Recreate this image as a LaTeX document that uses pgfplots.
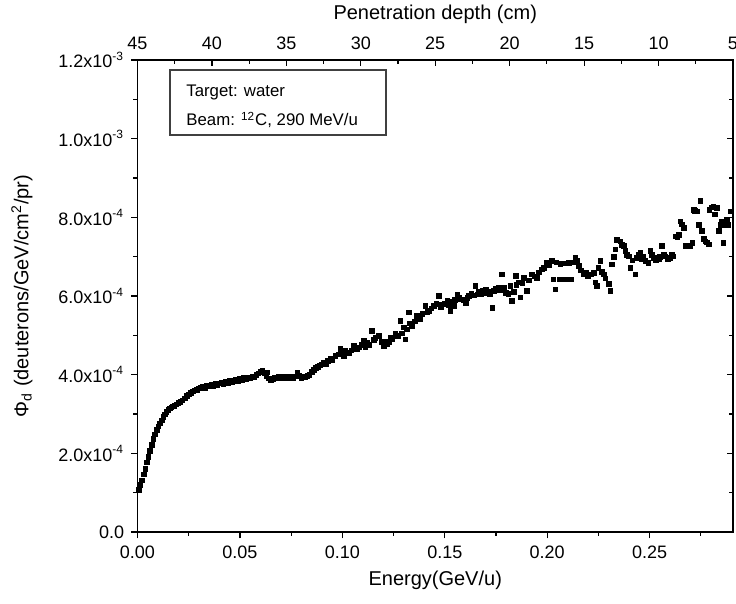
\documentclass[border=0pt]{standalone}
\usepackage{pgfplots}
\pgfplotsset{compat=1.18}
\usepackage{fontspec}
\setmainfont{Liberation Sans}

\pgfplotstableread{
E phi
0.0006 1.07e-4
0.0014 1.19e-4
0.0022 1.31e-4
0.003 1.46e-4
0.0038 1.61e-4
0.0046 1.77e-4
0.0054 1.91e-4
0.0062 2.06e-4
0.007 2.22e-4
0.0078 2.36e-4
0.0086 2.48e-4
0.0094 2.59e-4
0.0102 2.68e-4
0.011 2.76e-4
0.0118 2.84e-4
0.0126 2.92e-4
0.0134 2.99e-4
0.0142 3.05e-4
0.015 3.11e-4
0.0158 3.14e-4
0.0166 3.17e-4
0.0174 3.19e-4
0.018 3.21e-4
0.019 3.24e-4
0.020 3.28e-4
0.021 3.31e-4
0.022 3.35e-4
0.023 3.40e-4
0.024 3.46e-4
0.025 3.50e-4
0.026 3.54e-4
0.027 3.57e-4
0.028 3.60e-4
0.029 3.62e-4
0.030 3.65e-4
0.031 3.68e-4
0.032 3.70e-4
0.033 3.67e-4
0.034 3.73e-4
0.035 3.70e-4
0.036 3.75e-4
0.037 3.71e-4
0.038 3.77e-4
0.039 3.73e-4
0.040 3.78e-4
0.041 3.80e-4
0.042 3.76e-4
0.043 3.82e-4
0.044 3.79e-4
0.045 3.84e-4
0.046 3.80e-4
0.047 3.85e-4
0.048 3.87e-4
0.049 3.83e-4
0.050 3.89e-4
0.051 3.86e-4
0.052 3.91e-4
0.053 3.88e-4
0.054 3.93e-4
0.055 3.92e-4
0.056 3.96e-4
0.057 3.95e-4
0.058 3.99e-4
0.059 4.03e-4
0.060 4.07e-4
0.061 4.09e-4
0.062 4.03e-4
0.063 3.96e-4
0.0635 4.06e-4
0.064 3.90e-4
0.065 3.86e-4
0.066 3.89e-4
0.067 3.93e-4
0.068 3.90e-4
0.069 3.94e-4
0.070 3.90e-4
0.071 3.94e-4
0.072 3.91e-4
0.073 3.95e-4
0.074 3.92e-4
0.075 3.96e-4
0.076 3.91e-4
0.077 3.96e-4
0.078 4.04e-4
0.079 3.97e-4
0.080 3.92e-4
0.081 3.96e-4
0.082 3.93e-4
0.083 3.97e-4
0.084 4.00e-4
0.085 4.07e-4
0.086 4.12e-4
0.087 4.17e-4
0.088 4.20e-4
0.089 4.24e-4
0.090 4.26e-4
0.091 4.31e-4
0.092 4.27e-4
0.093 4.35e-4
0.0943 4.40e-4
0.095 4.36e-4
0.0967 4.48e-4
0.098 4.52e-4
0.0991 4.65e-4
0.100 4.55e-4
0.1007 4.48e-4
0.1015 4.60e-4
0.1032 4.56e-4
0.1045 4.62e-4
0.1056 4.73e-4
0.107 4.66e-4
0.108 4.69e-4
0.1095 4.75e-4
0.1105 4.86e-4
0.1113 4.69e-4
0.112 4.80e-4
0.113 4.76e-4
0.1145 5.11e-4
0.1155 4.88e-4
0.1162 4.94e-4
0.1178 4.99e-4
0.119 4.83e-4
0.1202 4.73e-4
0.121 4.85e-4
0.1218 4.78e-4
0.123 4.82e-4
0.1235 4.95e-4
0.1243 4.90e-4
0.1259 5.03e-4
0.127 4.98e-4
0.1283 5.37e-4
0.129 5.05e-4
0.130 5.20e-4
0.1308 4.90e-4
0.1315 5.15e-4
0.1324 5.58e-4
0.133 5.30e-4
0.1341 5.24e-4
0.1355 5.35e-4
0.1365 5.49e-4
0.137 5.45e-4
0.1382 5.41e-4
0.139 5.55e-4
0.1406 5.75e-4
0.1415 5.60e-4
0.1422 5.62e-4
0.1435 5.68e-4
0.1446 5.75e-4
0.146 5.80e-4
0.1471 6.00e-4
0.148 5.72e-4
0.1487 5.79e-4
0.150 5.80e-4
0.1512 5.87e-4
0.152 5.78e-4
0.1528 5.62e-4
0.1535 5.85e-4
0.1545 5.75e-4
0.155 5.90e-4
0.1561 6.04e-4
0.157 5.95e-4
0.1577 5.91e-4
0.159 5.90e-4
0.1602 5.83e-4
0.161 5.95e-4
0.1618 6.00e-4
0.163 6.05e-4
0.1645 6.02e-4
0.1650 6.25e-4
0.1659 6.04e-4
0.1665 6.10e-4
0.1675 6.06e-4
0.1683 6.13e-4
0.169 6.08e-4
0.170 6.17e-4
0.171 6.12e-4
0.172 6.05e-4
0.1732 5.70e-4
0.1741 6.13e-4
0.175 6.18e-4
0.1763 6.21e-4
0.177 6.15e-4
0.1780 6.55e-4
0.179 6.20e-4
0.1797 6.08e-4
0.181 6.05e-4
0.1821 6.25e-4
0.1829 5.87e-4
0.1838 6.10e-4
0.1846 6.51e-4
0.185 6.28e-4
0.186 6.35e-4
0.187 5.96e-4
0.1878 6.32e-4
0.1887 6.46e-4
0.190 6.13e-4
0.1912 6.40e-4
0.1925 6.55e-4
0.194 6.50e-4
0.195 6.46e-4
0.196 6.60e-4
0.1974 6.68e-4
0.1985 6.72e-4
0.1999 6.84e-4
0.201 6.78e-4
0.2023 6.89e-4
0.2030 6.42e-4
0.204 6.17e-4
0.2045 6.85e-4
0.206 6.42e-4
0.2065 6.82e-4
0.208 6.42e-4
0.2085 6.83e-4
0.210 6.42e-4
0.2105 6.84e-4
0.2115 6.42e-4
0.2125 6.85e-4
0.2138 6.97e-4
0.2145 6.90e-4
0.2154 6.76e-4
0.2165 6.65e-4
0.2178 6.55e-4
0.219 6.58e-4
0.220 6.51e-4
0.2215 6.55e-4
0.2227 6.59e-4
0.2235 6.35e-4
0.2243 6.25e-4
0.225 6.72e-4
0.226 6.89e-4
0.2268 6.62e-4
0.2276 6.55e-4
0.2285 6.45e-4
0.2300 6.30e-4
0.2308 6.13e-4
0.2316 6.80e-4
0.2325 7.00e-4
0.2333 7.18e-4
0.234 7.43e-4
0.2357 7.39e-4
0.2365 7.30e-4
0.2373 7.27e-4
0.2382 7.14e-4
0.239 7.05e-4
0.2398 7.01e-4
0.2406 6.72e-4
0.2415 6.90e-4
0.243 6.55e-4
0.2438 6.97e-4
0.2447 7.05e-4
0.2455 7.10e-4
0.2462 6.93e-4
0.247 7.00e-4
0.248 6.89e-4
0.2495 6.84e-4
0.2504 7.14e-4
0.251 7.05e-4
0.252 6.97e-4
0.253 6.90e-4
0.2544 6.93e-4
0.255 7.00e-4
0.256 7.27e-4
0.257 7.05e-4
0.2577 7.01e-4
0.259 6.95e-4
0.260 6.97e-4
0.261 7.05e-4
0.2617 7.01e-4
0.2625 7.52e-4
0.2635 7.50e-4
0.2642 7.56e-4
0.265 7.90e-4
0.2658 7.82e-4
0.2666 7.73e-4
0.2674 7.27e-4
0.2685 7.28e-4
0.270 7.27e-4
0.2708 7.35e-4
0.2715 8.19e-4
0.2722 8.17e-4
0.273 8.15e-4
0.274 7.81e-4
0.2748 8.41e-4
0.2756 7.65e-4
0.2765 7.45e-4
0.2772 7.39e-4
0.278 7.36e-4
0.2788 7.31e-4
0.2792 8.19e-4
0.2804 8.25e-4
0.2812 8.28e-4
0.2820 8.07e-4
0.2829 8.24e-4
0.2837 7.65e-4
0.2845 7.80e-4
0.2853 7.90e-4
0.2861 7.35e-4
0.2870 7.80e-4
0.2877 7.94e-4
0.2885 7.81e-4
0.2894 8.15e-4
}\deuterons

\begin{document}
\begin{tikzpicture}
\pgfplotsset{every axis/.append style={
  scale only axis, width=297.75pt, height=236pt,
  at={(0,0)}, anchor=south west,
  /pgf/number format/assume math mode=true,
  axis line style={-, line width=0.7pt, black},
  tick style={black, line width=0.6pt},
  major tick length=3.2pt, minor tick length=2pt,
  tick label style={font=\fontsize{9}{10}\selectfont},
  label style={font=\fontsize{10}{12}\selectfont},
  scaled x ticks=false, scaled y ticks=false,
  ymin=0, ymax=1.2e-3,
  ytick={0,2e-4,4e-4,6e-4,8e-4,1e-3,1.2e-3},
  minor ytick={1e-4,3e-4,5e-4,7e-4,9e-4,1.1e-3},
}}
\begin{axis}[
  xmin=0, xmax=0.2907,
  axis x line*=bottom, axis y line*=left,
  tick align=outside,
  xtick={0,0.05,0.1,0.15,0.2,0.25},
  minor xtick={0.025,0.075,0.125,0.175,0.225,0.275},
  xticklabels={0.00,0.05,0.10,0.15,0.20,0.25},
  yticklabels={0.0,
    2.0x10\textsuperscript{-4},
    4.0x10\textsuperscript{-4},
    6.0x10\textsuperscript{-4},
    8.0x10\textsuperscript{-4},
    1.0x10\textsuperscript{-3},
    1.2x10\textsuperscript{-3}},
  xlabel={Energy(GeV/u)},
  xlabel style={at={(axis description cs:0.5,-0.1017)}, anchor=center},
  ylabel={Φ\textsubscript{d} (deuterons/GeV/cm\textsuperscript{2}/pr)},
  ylabel style={at={(axis description cs:-0.194,0.5)}, anchor=center},
  clip=false,
]
\addplot[only marks, mark=square*, mark size=1.15pt, black] table[x=E, y=phi] {\deuterons};
\draw[black!75, line width=0.6pt] (rel axis cs:0.0546,0.979) rectangle (rel axis cs:0.4173,0.841);
\node[anchor=west, font=\fontsize{8.4}{10}\selectfont, inner sep=0pt] at (rel axis cs:0.0814,0.932) {Target: water};
\node[anchor=west, font=\fontsize{8.4}{10}\selectfont, inner sep=0pt] at (rel axis cs:0.0814,0.873) {Beam: \textsuperscript{12}C, 290 MeV/u};
\end{axis}
\begin{axis}[
  xmin=5, xmax=45, x dir=reverse,
  xtick pos=right, xticklabel pos=right,
  ytick pos=right, yticklabel pos=right,
  tick align=inside,
  xtick={5,10,15,20,25,30,35,40,45},
  minor xtick={7.5,12.5,17.5,22.5,27.5,32.5,37.5,42.5},
  xticklabel style={yshift=1.5pt},
  yticklabels={},
  xlabel={Penetration depth (cm)},
  xlabel style={at={(axis description cs:0.5,1.0975)}, anchor=center},
]
\end{axis}
\pgfresetboundingbox
\useasboundingbox (-68.75pt,-36pt) rectangle (299.25pt,266pt);
\end{tikzpicture}
\end{document}
